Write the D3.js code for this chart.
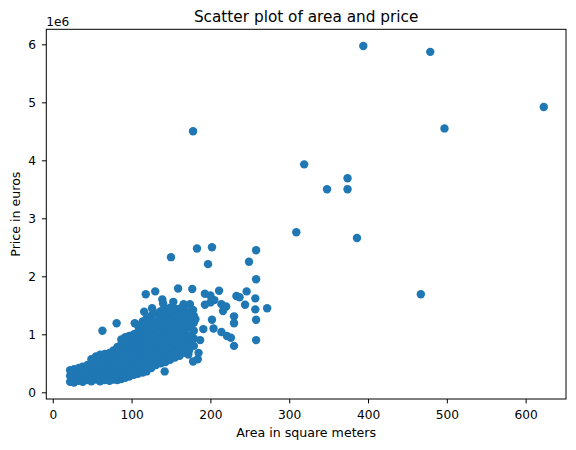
<!DOCTYPE html>
<html><head><meta charset="utf-8">
<script src="https://cdn.jsdelivr.net/npm/d3@7"></script>
<style>
body{margin:0;background:#fff}
svg{display:block}
text{font-family:"DejaVu Sans",sans-serif;fill:#000}
</style>
</head><body>
<svg id="chart" width="576" height="450"></svg>
<script>
// Area in square meters
const area = [
  394,479,623,497,178,319,374,348,374,309,386,467,
  183,202,150,197,258,249,258,159,177,130,118,211,246,193,200,233,237,257,
  139,153,166,174,193,200,205,214,220,216,244,257,272,230,230,202,258,
  191,204,214,221,226,258,230,187,185,184,178,172,142,
  63,81,104,116,126,140,178,170,181,174,
  22,22,22,
  27,27,27,27,
  33,33,33,33,
  38,38,38,38,
  44,44,44,44,
  49,49,49,49,49,
  55,55,55,55,55,
  60,60,60,60,60,60,
  66,66,66,66,66,66,
  72,72,72,72,72,72,
  77,77,77,77,77,77,
  82,82,82,82,82,82,82,
  87,87,87,87,87,87,87,87,
  92,92,92,92,92,92,92,92,
  97,97,97,97,97,97,97,97,
  103,103,103,103,103,103,103,103,
  108,108,108,108,108,108,108,108,108,
  114,114,114,114,114,114,114,114,114,
  119,119,119,119,119,119,119,119,119,
  125,125,125,125,125,125,125,125,125,
  131,131,131,131,131,131,131,131,131,
  137,137,137,137,137,137,137,137,137,
  143,143,143,143,143,143,143,143,143,
  149,149,149,149,149,149,149,149,149,
  155,155,155,155,155,155,155,155,
  161,161,161,161,161,161,161,161,
  167,167,167,167,167,167,167,
  173,173,173,173,173,173,
  179,179,179,179,179
];
// Price in euros
const price = [
  5970000,5870000,4920000,4550000,4500000,3930000,3690000,3500000,3500000,2760000,2660000,1690000,
  2480000,2500000,2330000,2210000,2450000,2250000,1950000,1790000,1780000,1740000,1690000,1750000,1740000,1700000,1670000,1660000,1640000,1620000,
  1600000,1560000,1520000,1520000,1510000,1550000,1590000,1520000,1480000,1400000,1510000,1430000,1450000,1310000,1190000,1250000,1250000,
  1090000,1100000,1040000,970000,940000,900000,800000,900000,680000,570000,530000,650000,360000,
  1060000,1190000,1190000,1390000,1450000,1530000,1420000,1360000,1260000,1160000,
  180000,280000,380000,
  170000,250000,330000,400000,
  200000,290000,370000,420000,
  180000,260000,350000,440000,
  210000,300000,390000,470000,
  190000,270000,360000,450000,570000,
  220000,310000,400000,500000,620000,
  190000,280000,370000,460000,550000,650000,
  210000,300000,400000,490000,580000,660000,
  200000,290000,380000,470000,560000,680000,
  220000,310000,410000,500000,600000,720000,
  210000,300000,390000,480000,580000,670000,780000,
  230000,330000,430000,530000,630000,730000,830000,910000,
  250000,350000,450000,550000,650000,750000,850000,950000,
  270000,370000,470000,570000,670000,770000,870000,970000,
  300000,400000,500000,600000,700000,800000,900000,1000000,
  320000,420000,520000,630000,730000,840000,940000,1040000,1150000,
  340000,450000,560000,670000,770000,880000,980000,1090000,1220000,
  360000,470000,580000,690000,800000,910000,1020000,1140000,1270000,
  420000,530000,640000,740000,850000,960000,1070000,1190000,1320000,
  470000,580000,680000,780000,880000,990000,1100000,1220000,1360000,
  500000,610000,720000,820000,930000,1040000,1160000,1280000,1400000,
  520000,640000,750000,860000,980000,1100000,1220000,1340000,1440000,
  560000,670000,780000,900000,1020000,1150000,1280000,1380000,1460000,
  600000,710000,820000,950000,1080000,1210000,1330000,1440000,
  630000,740000,860000,990000,1120000,1250000,1350000,1440000,
  680000,800000,920000,1050000,1180000,1300000,1420000,
  720000,850000,980000,1120000,1260000,1380000,
  800000,930000,1060000,1200000,1320000
];
const xTicks = [0,100,200,300,400,500,600];
const yTicks = [0,1000000,2000000,3000000,4000000,5000000,6000000];
const titleText = "Scatter plot of area and price";
const xLabel = "Area in square meters";
const yLabel = "Price in euros";
const offsetLabel = "1e6";

const svg = d3.select("#chart");
const L = 46.3, R = 566, T = 29.3, B = 399;
const x = d3.scaleLinear().domain([-8.2, 651.2]).range([L, R]);
const y = d3.scaleLinear().domain([-115500, 6259000]).range([B, T]);

const pts = area.map((a, i) => ({a, p: price[i]}));

svg.append("g").selectAll("circle").data(pts).join("circle")
  .attr("cx", d => x(d.a)).attr("cy", d => y(d.p)).attr("r", 4.2)
  .attr("fill", "#1f77b4");

const fs = 12.2;
const xAxis = svg.append("g").attr("transform", `translate(0,${B})`)
  .call(d3.axisBottom(x).tickValues(xTicks).tickSize(4.4).tickPadding(6.9).tickFormat(d3.format("d")));
const yAxis = svg.append("g").attr("transform", `translate(${L},0)`)
  .call(d3.axisLeft(y).tickValues(yTicks).tickSize(4.4).tickPadding(6.0).tickFormat(d => d3.format("d")(d / 1e6)));
[xAxis, yAxis].forEach(g => {
  g.select(".domain").remove();
  g.selectAll(".tick line").attr("stroke", "#000").attr("stroke-width", 1);
  g.selectAll(".tick text").attr("font-size", fs).attr("font-family", "DejaVu Sans").attr("fill", "#000");
});

svg.append("rect").attr("x", L).attr("y", T).attr("width", R - L).attr("height", B - T)
  .attr("fill", "none").attr("stroke", "#000").attr("stroke-width", 1);

svg.append("text").attr("x", (L + R) / 2).attr("y", 21.8).attr("text-anchor", "middle")
  .attr("font-size", 15.3).text(titleText);
svg.append("text").attr("x", (L + R) / 2).attr("y", 437).attr("text-anchor", "middle")
  .attr("font-size", 12.6).text(xLabel);
svg.append("text").attr("transform", `translate(20,${(T + B) / 2}) rotate(-90)`).attr("text-anchor", "middle")
  .attr("font-size", 12.6).text(yLabel);
svg.append("text").attr("x", L).attr("y", 26).attr("font-size", fs).text(offsetLabel);
</script>
</body></html>
